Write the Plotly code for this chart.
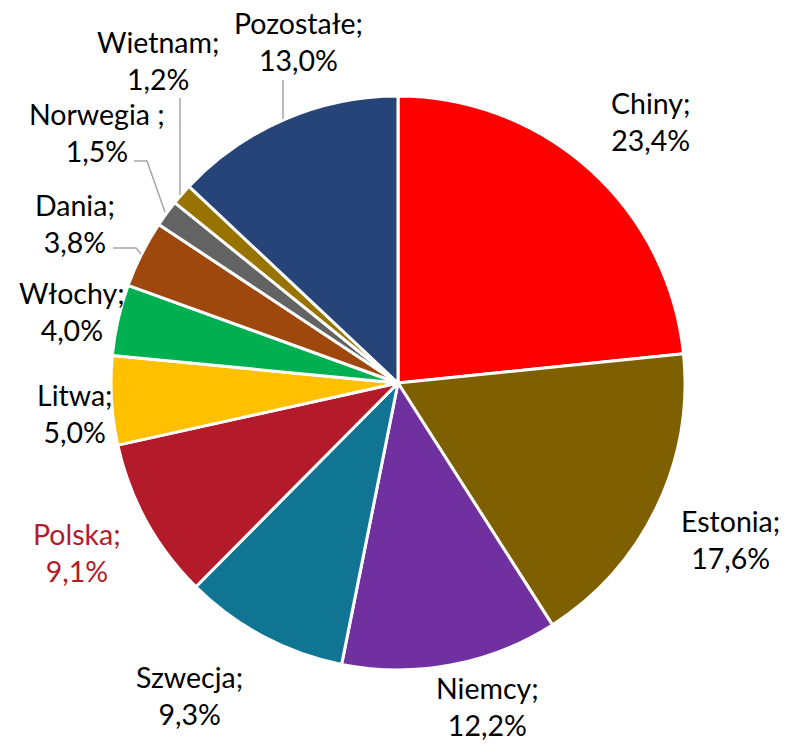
import plotly.graph_objects as go

# Udział krajów (%)
countries = ["Chiny", "Estonia", "Niemcy", "Szwecja", "Polska", "Litwa",
             "Włochy", "Dania", "Norwegia", "Wietnam", "Pozostałe"]
shares = [23.4, 17.6, 12.2, 9.3, 9.1, 5.0, 4.0, 3.8, 1.5, 1.2, 13.0]
label_names = ["Chiny;", "Estonia;", "Niemcy;", "Szwecja;", "Polska;", "Litwa;",
               "Włochy;", "Dania;", "Norwegia ;", "Wietnam;", "Pozostałe;"]

colors = ["#FF0000", "#7F6000", "#7030A0", "#0F7593", "#B31B2B", "#FFC000",
          "#00B050", "#9E480E", "#636363", "#997300", "#264478"]

W, H = 788, 744
CX, CY, R = 398, 383, 287  # pie centre and radius in pixels

# label centres (pixels, from top-left)
label_pos = {
    "Chiny": (650, 122), "Estonia": (730, 539), "Niemcy": (487, 706),
    "Szwecja": (189, 695), "Polska": (77, 552), "Litwa": (75, 414),
    "Włochy": (72, 311), "Dania": (75, 223), "Norwegia": (97, 132),
    "Wietnam": (158, 60), "Pozostałe": (298, 42),
}
label_colors = {"Polska": "#B31B2B"}

# grey leader lines (pixel polylines)
leaders = [
    [(283, 80), (283, 119)],
    [(180, 98), (180, 195)],
    [(134, 161), (147, 161), (165, 212)],
    [(113, 248), (136, 248), (141, 254)],
]


def px(x):
    return x / W


def py(y):
    return 1 - y / H


fig = go.Figure(go.Pie(
    labels=countries,
    values=shares,
    sort=False,
    direction="clockwise",
    rotation=0,
    marker=dict(colors=colors, line=dict(color="white", width=3)),
    textinfo="none",
    hoverinfo="label+percent",
    showlegend=False,
    domain=dict(x=[px(CX - R), px(CX + R)], y=[py(CY + R), py(CY - R)]),
))

for name, lab, val in zip(countries, label_names, shares):
    x, y = label_pos[name]
    txt = f"{lab}<br>{val:.1f}%".replace(".", ",")
    fig.add_annotation(
        x=px(x), y=py(y), xref="paper", yref="paper",
        text=txt, showarrow=False, align="center",
        xanchor="center", yanchor="middle",
        font=dict(family="Lato", size=28.5, color=label_colors.get(name, "#000000")),
    )

for pts in leaders:
    path = "M " + " L ".join(f"{px(x)},{py(y)}" for x, y in pts)
    fig.add_shape(type="path", path=path, xref="paper", yref="paper",
                  line=dict(color="#A6A6A6", width=1.5))

fig.update_layout(
    width=W, height=H,
    margin=dict(l=0, r=0, t=0, b=0),
    paper_bgcolor="white",
    plot_bgcolor="white",
)

fig.write_html("out.html")
